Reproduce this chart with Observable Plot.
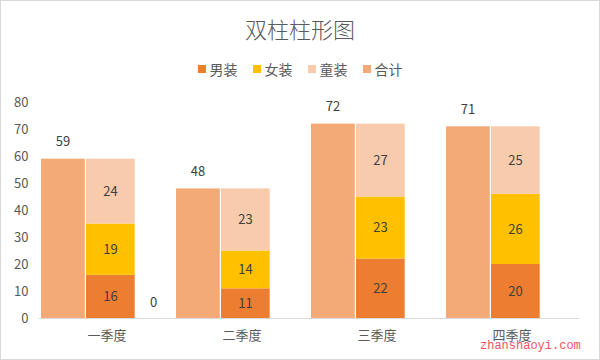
<!DOCTYPE html>
<html>
<head>
<meta charset="utf-8">
<script src="https://cdn.jsdelivr.net/npm/d3@7"></script>
<script src="https://cdn.jsdelivr.net/npm/@observablehq/plot@0.6"></script>
<style>
  html, body { margin: 0; padding: 0; background: #fff; }
  #wrap {
    position: relative; width: 598px; height: 358px;
    border: 1px solid #d9d9d9; background: #fff; overflow: hidden;
    font-family: "Noto Sans CJK SC", "Noto Sans", sans-serif;
  }
  #title {
    height: 54px; line-height: 54px; text-align: center;
    font-size: 22px; color: #595959; font-weight: 300;
  }
  #legend {
    height: 28px; display: flex; justify-content: center; align-items: center;
    font-size: 14px; color: #595959;
  }
  .item { display: inline-flex; align-items: center; margin: 0 7.5px; }
  .sw { width: 8px; height: 8px; margin-right: 4px; }
  #chart svg { display: block; }
  #wm {
    position: absolute; left: 479px; top: 338px;
    font-family: "Liberation Mono", "DejaVu Sans Mono", monospace;
    font-size: 12px; color: #ee3344; opacity: 0.85;
  }
</style>
</head>
<body>
<div id="wrap">
  <div id="title"></div>
  <div id="legend"></div>
  <div id="chart"></div>
  <div id="wm"></div>
</div>
<script>
const titleText = "双柱柱形图";
const quarters = ["一季度", "二季度", "三季度", "四季度"];
const men = [16, 11, 22, 20];
const women = [19, 14, 23, 26];
const kids = [24, 23, 27, 25];
const totals = [59, 48, 72, 71];
const seriesNames = ["男装", "女装", "童装", "合计"];
const seriesColors = ["#ED7D31", "#FFC000", "#F8CBAD", "#F4AA76"];
const slots = ["合计", "分项", "空"];
const blankQuarter = ["一季度"];
const blankValue = [0];
const yTicks = [0, 10, 20, 30, 40, 50, 60, 70, 80];
const watermark = "zhanshaoyi.com";

document.getElementById("title").textContent = titleText;
document.getElementById("wm").textContent = watermark;

const legend = d3.select("#legend");
seriesNames.forEach((name, i) => {
  const it = legend.append("span").attr("class", "item");
  it.append("span").attr("class", "sw").style("background", seriesColors[i]);
  it.append("span").text(name);
});

const totalData = quarters.map((q, i) => ({季度: q, slot: slots[0], value: totals[i], series: "合计"}));
const stackData = [];
quarters.forEach((q, i) => {
  stackData.push({季度: q, slot: slots[1], value: men[i], series: "男装"});
  stackData.push({季度: q, slot: slots[1], value: women[i], series: "女装"});
  stackData.push({季度: q, slot: slots[1], value: kids[i], series: "童装"});
});
const blankData = blankQuarter.map((q, i) => ({季度: q, slot: slots[2], value: blankValue[i]}));

const chart = Plot.plot({
  width: 598,
  height: 276,
  marginTop: 19,
  marginBottom: 41,
  marginLeft: 37,
  marginRight: 19,
  style: {fontFamily: "'Noto Sans CJK SC', 'Noto Sans', sans-serif", fontSize: "13px", color: "#595959", background: "transparent"},
  fx: {domain: quarters, padding: 0, axis: "bottom", label: null, tickSize: 0, tickPadding: 12, fontSize: 14},
  x: {domain: slots, padding: 0, axis: null},
  y: {domain: [0, 80], ticks: yTicks, tickSize: 0, tickPadding: 11, label: null, tickFormat: d => String(d)},
  color: {domain: seriesNames, range: seriesColors},
  marks: [
    Plot.barY(totalData, {fx: "季度", x: "slot", y: "value", fill: "series", insetLeft: 2, insetRight: -0.8}),
    Plot.barY(stackData, {fx: "季度", x: "slot", y: "value", fill: "series", insetLeft: 2, insetRight: -5.7}),
    Plot.ruleY([0], {stroke: "#d9d9d9", strokeWidth: 1}),
    Plot.text(totalData, {fx: "季度", x: "slot", y: "value", text: d => String(d.value), dy: -17, dx: 1, fill: "#404040", fontSize: 13}),
    Plot.text(stackData, Plot.stackY({fx: "季度", x: "slot", y: "value", text: d => String(d.value), dx: 3.5, fill: "#404040", fontSize: 13})),
    Plot.text(blankData, {fx: "季度", x: "slot", y: "value", text: d => String(d.value), dy: -16, dx: 1.5, fill: "#404040", fontSize: 13})
  ]
});
document.getElementById("chart").appendChild(chart);
</script>
</body>
</html>
